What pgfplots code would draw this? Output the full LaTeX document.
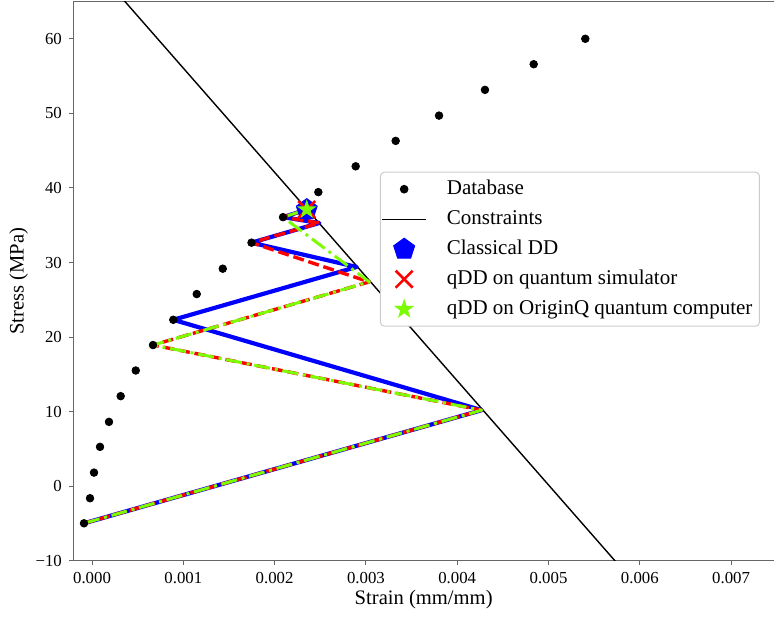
\documentclass[border=0pt]{standalone}
\usepackage{fontspec}
\setmainfont{Liberation Serif}
\usepackage{pgfplots}
\pgfplotsset{compat=1.18}
\definecolor{lgreen}{RGB}{124,252,0}
\pgfdeclareplotmark{fstar}{%
  \pgfpathmoveto{\pgfpointpolar{90}{\pgfplotmarksize}}%
  \pgfpathlineto{\pgfpointpolar{126}{0.382\pgfplotmarksize}}%
  \pgfpathlineto{\pgfpointpolar{162}{\pgfplotmarksize}}%
  \pgfpathlineto{\pgfpointpolar{198}{0.382\pgfplotmarksize}}%
  \pgfpathlineto{\pgfpointpolar{234}{\pgfplotmarksize}}%
  \pgfpathlineto{\pgfpointpolar{270}{0.382\pgfplotmarksize}}%
  \pgfpathlineto{\pgfpointpolar{306}{\pgfplotmarksize}}%
  \pgfpathlineto{\pgfpointpolar{342}{0.382\pgfplotmarksize}}%
  \pgfpathlineto{\pgfpointpolar{18}{\pgfplotmarksize}}%
  \pgfpathlineto{\pgfpointpolar{54}{0.382\pgfplotmarksize}}%
  \pgfpathclose
  \pgfusepathqfillstroke}
\begin{document}
\begin{tikzpicture}
\begin{axis}[
  scale only axis, width=350.35pt, height=279.65pt,
  xmin=-0.000205, xmax=0.00747, ymin=-10, ymax=65,
  axis x line*=box, axis y line*=left,
  xtick pos=left, ytick pos=left,
  axis line style={black!60, line width=0.5pt},
  tick align=outside,
  major tick length=2.2pt,
  every tick/.style={black!60, line width=0.5pt},
  scaled x ticks=false, scaled y ticks=false,
  xtick={0,0.001,0.002,0.003,0.004,0.005,0.006,0.007},
  xticklabels={0.000,0.001,0.002,0.003,0.004,0.005,0.006,0.007},
  ytick={-10,0,10,20,30,40,50,60},
  yticklabels={−10,0,10,20,30,40,50,60},
  tick label style={font=\fontsize{8.4}{10}\selectfont},
  xlabel={Strain (mm/mm)}, ylabel={Stress (MPa)},
  label style={font=\fontsize{10.3}{12}\selectfont},
  xlabel style={at={(axis description cs:0.5,-0.0790)}, anchor=base},
  ylabel style={at={(axis description cs:-0.0708,0.5)}, anchor=base},
  legend image code/.code={\draw[mark repeat=2,mark phase=2,#1] plot coordinates {(0pt,0pt) (11pt,0pt) (22pt,0pt)};},
  legend cell align=left,
  legend style={at={(0.98,0.6957)}, anchor=north east, draw=black!20, line width=0.5pt,
    rounded corners=2pt, fill=white,
    font=\fontsize{10.5}{12}\selectfont, inner xsep=0.5pt, inner ysep=1pt,
    row sep=0pt, column sep=7pt,
    nodes={text height=7.5pt, text depth=2.5pt, inner ysep=2.5pt, inner xsep=3pt}},
]
\addplot[only marks, mark=*, mark size=1.9pt, black] coordinates {
(-0.0000876,-4.97) (-0.0000219,-1.61) (0.0000219,1.83) (0.0000876,5.28)
(0.000186,8.63) (0.000314,12.08) (0.000479,15.52) (0.000668,18.93)
(0.000890,22.32) (0.001147,25.77) (0.001432,29.17) (0.001747,32.66)
(0.002092,36.08) (0.002479,39.44) (0.002888,42.90) (0.003326,46.31)
(0.003801,49.70) (0.004304,53.15) (0.004838,56.59) (0.005403,60.00)
};
\addlegendentry{Database}
\addplot[black, line width=0.7pt] coordinates {(0,70.04) (0.006,-13.80)};
\addlegendentry{Constraints}
\addplot[blue, line width=2.1pt, line join=round, forget plot] coordinates {
(-0.0000876,-4.97) (0.004268,10.2) (0.000890,22.32) (0.002899,29.4)
(0.001747,32.66) (0.00249,35.3) (0.002092,36.08) (0.002352,37.1)};
\addplot[red, line width=1.7pt, line join=round, dash pattern=on 5.5pt off 2.4pt, forget plot] coordinates {
(-0.0000876,-4.97) (0.004268,10.2) (0.000668,18.93) (0.003037,27.4)
(0.001747,32.66) (0.00249,35.3) (0.002092,36.08) (0.002352,37.1)};
\addplot[lgreen, line width=1.5pt, line join=round, dash pattern=on 8pt off 2.4pt on 1.5pt off 2.4pt, forget plot] coordinates {
(-0.0000876,-4.97) (0.004268,10.2) (0.000668,18.93) (0.003037,27.4)
(0.002092,36.08) (0.002352,37.1)};
\addplot[only marks, mark=pentagon*, mark size=5.5pt, blue] coordinates {(0.002352,37.1)};
\addlegendentry{Classical DD}
\addplot[only marks, mark=x, mark size=6pt, red, mark options={line width=1.3pt}] coordinates {(0.002352,37.1)};
\addlegendentry{qDD on quantum simulator}
\addplot[only marks, mark=fstar, mark size=4.5pt, lgreen] coordinates {(0.002352,37.1)};
\addlegendentry{qDD on OriginQ quantum computer}
\coordinate (sw) at (rel axis cs:0,0);
\coordinate (ne) at (rel axis cs:1,1);
\end{axis}
\pgfresetboundingbox
\useasboundingbox ([xshift=-36.65pt,yshift=-27.6pt]sw) rectangle ([yshift=0.75pt]ne);
\end{tikzpicture}
\end{document}
